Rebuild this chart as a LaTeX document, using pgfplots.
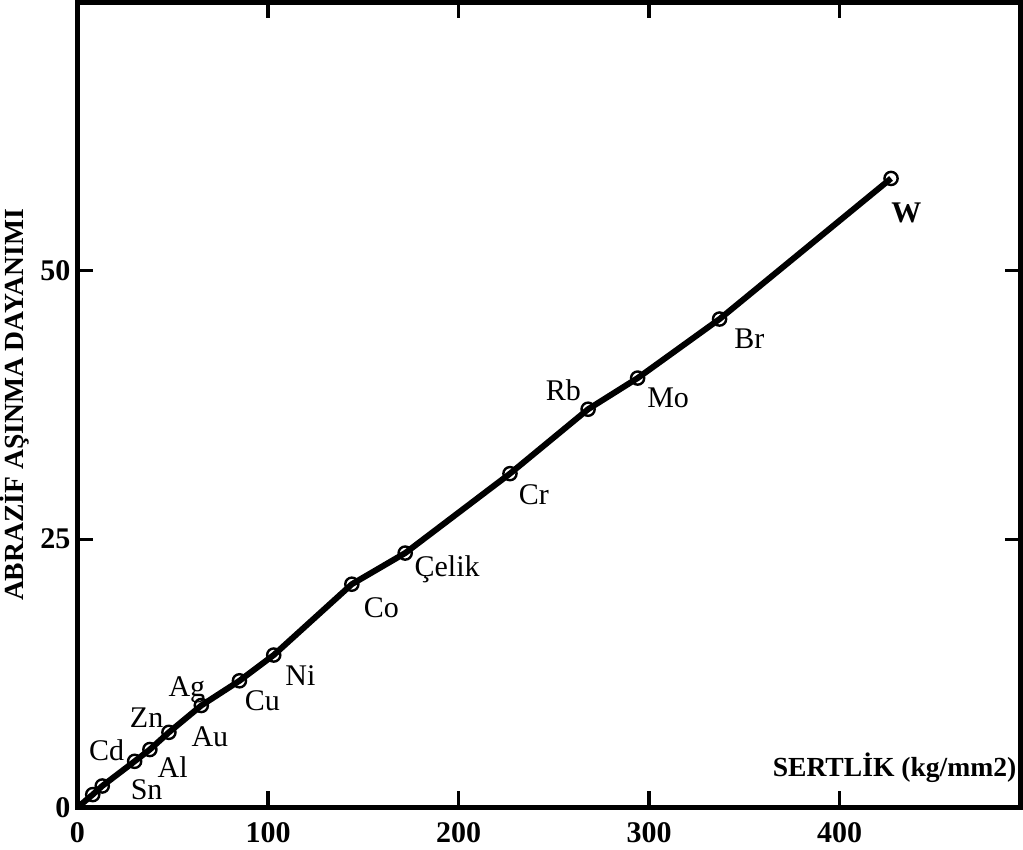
\documentclass[border=0pt]{standalone}
\usepackage{fontspec}
\setmainfont{Liberation Serif}
\usepackage{pgfplots}
\pgfplotsset{compat=1.18}
\begin{document}
\begin{tikzpicture}
\begin{axis}[
  scale only axis, width=471.5pt, height=402.5pt,
  xmin=0, xmax=495, ymin=0, ymax=75,
  xtick={0,100,200,300,400}, ytick={0,25,50},
  tick align=inside, major tick length=8pt,
  axis line style={line width=2.4pt},
  every tick/.style={line width=1.6pt, black},
  tick label style={font=\fontsize{15}{17}\selectfont\bfseries},
  xticklabel style={yshift=-4pt},
  /pgf/number format/assume math mode=true,
  xlabel={SERTLİK (kg/mm2)},
  xlabel style={font=\fontsize{13.8}{16}\selectfont\bfseries, at={(axis description cs:0.996,0.03)}, anchor=south east, inner sep=0pt},
  ylabel={ABRAZİF AŞINMA DAYANIMI},
  ylabel style={font=\fontsize{13.8}{16}\selectfont\bfseries, inner sep=0pt, yshift=2pt},
  clip=false,
]
\addplot[line width=3pt, black] coordinates {
 (0,0) (8,1.2) (13,2.0) (30,4.3) (38,5.4) (48,7.0) (65,9.5) (85,11.8) (103,14.2)
 (144,20.8) (172,23.7) (227,31.1) (268,37.1) (294,40.0) (337,45.5) (427,58.6)};
\addplot[only marks, mark=o, mark size=3.3pt, mark options={fill=white, line width=1.2pt, black}] coordinates {
 (8,1.2) (13,2.0) (30,4.3) (38,5.4) (48,7.0) (65,9.5) (85,11.8) (103,14.2)
 (144,20.8) (172,23.7) (227,31.1) (268,37.1) (294,40.0) (337,45.5) (427,58.6)};
\begin{scope}[every node/.style={font=\fontsize{15}{18}\selectfont}]
\node at (axis cs:435,55.4) {\bfseries W};
\node at (axis cs:352.6,43.7) {Br};
\node at (axis cs:310,38.2) {Mo};
\node at (axis cs:255,38.9) {Rb};
\node at (axis cs:239.5,29.1) {Cr};
\node at (axis cs:194,22.2) {Çelik};
\node at (axis cs:159.5,18.6) {Co};
\node at (axis cs:117,12.3) {Ni};
\node at (axis cs:97,9.9) {Cu};
\node at (axis cs:57.4,11.0) {Ag};
\node at (axis cs:36.3,8.4) {Zn};
\node at (axis cs:69.5,6.6) {Au};
\node at (axis cs:15.3,5.3) {Cd};
\node at (axis cs:50,3.8) {Al};
\node at (axis cs:36.3,1.7) {Sn};
\end{scope}
\end{axis}
\end{tikzpicture}
\end{document}
